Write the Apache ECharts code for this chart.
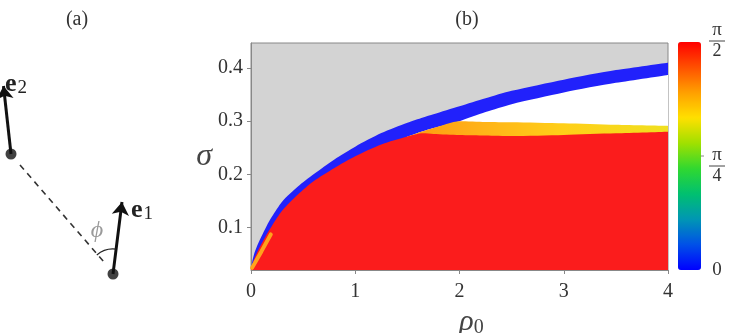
<!DOCTYPE html>
<html>
<head>
<meta charset="utf-8">
<script src="https://cdn.jsdelivr.net/npm/echarts@6/dist/echarts.min.js"></script>
<style>
html, body { margin: 0; padding: 0; background: #fff; }
#chart { width: 731px; height: 333px; }
</style>
</head>
<body>
<div id="chart"></div>
<script>
// panel (b): region boundaries sigma(rho0)
const rho = [0, 0.01, 0.03, 0.06, 0.1, 0.15, 0.2, 0.3, 0.45, 0.6, 0.8, 1.0, 1.25, 1.5, 1.65, 1.75, 2.0, 2.25, 2.5, 3.0, 3.5, 4.0];
const blueUpper = [0.021, 0.034, 0.05, 0.066, 0.083, 0.103, 0.12, 0.149, 0.177, 0.2, 0.228, 0.252, 0.2775, 0.297, 0.307, 0.313, 0.328, 0.343, 0.357, 0.378, 0.396, 0.41];
const blueLower = [0.021, 0.028, 0.04, 0.054, 0.069, 0.087, 0.103, 0.132, 0.162, 0.187, 0.212, 0.234, 0.256, 0.271, 0.281, 0.287, 0.3, 0.317, 0.332, 0.354, 0.372, 0.387];
const redTop = [0.021, 0.028, 0.04, 0.054, 0.069, 0.087, 0.103, 0.132, 0.162, 0.187, 0.212, 0.234, 0.256, 0.271, 0.277, 0.276, 0.274, 0.273, 0.272, 0.274, 0.277, 0.28];
// orange/yellow band above the red region
const bandRho = [1.5, 1.65, 1.75, 2.0, 2.25, 2.5, 3.0, 3.5, 4.0];
const bandTop = [0.271, 0.281, 0.287, 0.3, 0.2985, 0.298, 0.296, 0.293, 0.291];
// thin orange sliver near the origin
const sliverRho = [0.01, 0.1, 0.19];
const sliverSigma = [0.024, 0.055, 0.087];
const yTicks = [0.1, 0.2, 0.3, 0.4];

// panel (a): schematic, in the diagram's own frame
const dots = [[11, 154], [113, 274]];
const arrows = [[[11, 154], [3.5, 86]], [[113, 274], [122, 202]]];
const dashed = [[20, 165], [104, 262]];

const jet = ['#0000ff', '#0050e8', '#0096b4', '#00c070', '#30d830', '#a0e000', '#ffe000', '#ffa000', '#ff5000', '#ff0000'];

const pair = (xs, ys) => xs.map((x, i) => [x, ys[i]]);
const whiteRho = rho.filter(r => r >= 1.5);
const whiteTop = blueLower.slice(rho.length - whiteRho.length);

const serif = '"Liberation Serif", "DejaVu Serif", serif';

function area(name, data, color, z) {
    return {
        name, type: 'line', data, z,
        symbol: 'none', smooth: 0.25, clip: true,
        lineStyle: { width: 0 },
        areaStyle: { color, opacity: 1, origin: 'start' },
        silent: true
    };
}

function frac(num, den, cx, cy) {
    return {
        type: 'group',
        children: [
            { type: 'text', x: cx, y: cy - 1, style: { text: num, font: '19px ' + serif, fill: '#333', align: 'center', verticalAlign: 'bottom' } },
            { type: 'line', shape: { x1: cx - 8, y1: cy, x2: cx + 8, y2: cy }, style: { stroke: '#444', lineWidth: 1 } },
            { type: 'text', x: cx, y: cy + 1, style: { text: den, font: '18px ' + serif, fill: '#333', align: 'center', verticalAlign: 'top' } }
        ]
    };
}

const chart = echarts.init(document.getElementById('chart'));

const option = {
    animation: false,
    grid: [
        { left: 251, top: 43, width: 417, height: 227, show: true, backgroundColor: '#d3d3d3', borderColor: '#888', borderWidth: 1, outerBoundsMode: 'none' },
        { left: 0, top: 0, width: 200, height: 333, show: false, outerBoundsMode: 'none' }
    ],
    xAxis: [
        {
            type: 'value', gridIndex: 0, min: 0, max: 4, interval: 1,
            name: '{r|ρ}{s|0}', nameLocation: 'middle', nameGap: 30,
            nameTextStyle: {
                padding: [0, 0, 0, 24],
                rich: {
                    r: { fontFamily: serif, fontStyle: 'italic', fontSize: 30, color: '#444' },
                    s: { fontFamily: serif, fontSize: 20, color: '#444', padding: [12, 0, 0, 0] }
                }
            },
            axisLine: { lineStyle: { color: '#888' } },
            axisTick: { length: 4, lineStyle: { color: '#888' } },
            axisLabel: { fontFamily: serif, fontSize: 20, color: '#333', margin: 12 },
            splitLine: { show: false }
        },
        { type: 'value', gridIndex: 1, min: 0, max: 200, show: false }
    ],
    yAxis: [
        {
            type: 'value', gridIndex: 0, min: 0.02, max: 0.447,
            name: 'σ', nameLocation: 'middle', nameGap: 34, nameRotate: 0,
            nameTextStyle: { fontFamily: serif, fontStyle: 'italic', fontSize: 32, color: '#444', padding: [0, 0, 8, 0] },
            axisLine: { lineStyle: { color: '#888' } },
            axisTick: { length: 4, lineStyle: { color: '#888' }, customValues: yTicks },
            axisLabel: { fontFamily: serif, fontSize: 20, color: '#333', margin: 8, customValues: yTicks },
            splitLine: { show: false }
        },
        { type: 'value', gridIndex: 1, min: 0, max: 333, inverse: true, show: false }
    ],
    visualMap: {
        type: 'continuous', min: 0, max: Math.PI / 2, seriesIndex: [],
        orient: 'vertical', left: 678, top: 42, padding: 0,
        itemWidth: 23, itemHeight: 228, calculable: false, showLabel: false,
        text: ['', ''], hoverLink: false,
        inRange: { color: jet }
    },
    series: [
        area('blue', pair(rho, blueUpper), '#2121fb', 1),
        area('white', pair(whiteRho, whiteTop), '#ffffff', 2),
        area('band', pair(bandRho, bandTop), new echarts.graphic.LinearGradient(0, 0, 1, 0, [
            { offset: 0, color: '#ff9810' },
            { offset: 0.25, color: '#ffb018' },
            { offset: 0.6, color: '#ffcf18' },
            { offset: 1, color: '#f0e020' }
        ]), 3),
        area('red', pair(rho, redTop), '#fb1c1c', 4),
        {
            name: 'sliver', type: 'line', data: pair(sliverRho, sliverSigma), z: 5,
            symbol: 'none', clip: true, silent: true,
            lineStyle: { width: 4, color: '#ffa21c', cap: 'round' }
        },
        // panel (a)
        {
            type: 'lines', coordinateSystem: 'cartesian2d', xAxisIndex: 1, yAxisIndex: 1,
            symbol: 'none', silent: true,
            lineStyle: { color: '#333', width: 1.6, type: [6, 5], opacity: 1 },
            data: [{ coords: dashed }]
        },
        {
            type: 'lines', coordinateSystem: 'cartesian2d', xAxisIndex: 1, yAxisIndex: 1,
            symbol: ['none', 'arrow'], symbolSize: 13, silent: true,
            lineStyle: { color: '#111', width: 3, opacity: 1 },
            data: arrows.map(c => ({ coords: c }))
        },
        {
            type: 'scatter', xAxisIndex: 1, yAxisIndex: 1, silent: true,
            symbolSize: 11, itemStyle: { color: '#111' },
            data: dots
        },
        {
            type: 'custom', xAxisIndex: 1, yAxisIndex: 1, silent: true,
            data: [dots[1]],
            renderItem: (params, api) => {
                const c = api.coord([api.value(0), api.value(1)]);
                return {
                    type: 'arc',
                    shape: { cx: c[0], cy: c[1], r: 25, startAngle: 229.6 * Math.PI / 180, endAngle: 277 * Math.PI / 180 },
                    style: { stroke: '#222', fill: null, lineWidth: 1.2 }
                };
            }
        }
    ],
    graphic: [
        { type: 'text', x: 77, y: 20, style: { text: '(a)', font: '20px ' + serif, fill: '#333', align: 'center', verticalAlign: 'middle' } },
        { type: 'text', x: 467, y: 20, style: { text: '(b)', font: '20px ' + serif, fill: '#333', align: 'center', verticalAlign: 'middle' } },
        {
            type: 'text', x: 5, y: 84,
            style: {
                text: '{e|e}{s|2}', verticalAlign: 'middle',
                rich: {
                    e: { font: 'bold 26px ' + serif, fill: '#222' },
                    s: { font: '19px ' + serif, fill: '#222', padding: [8, 0, 0, 1] }
                }
            }
        },
        {
            type: 'text', x: 131, y: 210,
            style: {
                text: '{e|e}{s|1}', verticalAlign: 'middle',
                rich: {
                    e: { font: 'bold 26px ' + serif, fill: '#222' },
                    s: { font: '19px ' + serif, fill: '#222', padding: [8, 0, 0, 1] }
                }
            }
        },
        { type: 'text', x: 97, y: 231, style: { text: 'ϕ', font: 'italic 24px ' + serif, fill: '#9a9a9a', align: 'center', verticalAlign: 'middle' } },
        // colorbar labels
        frac('π', '2', 717, 41),
        frac('π', '4', 717, 166),
        { type: 'line', shape: { x1: 701, y1: 156, x2: 704, y2: 156 }, style: { stroke: '#888', lineWidth: 1 } },
        { type: 'text', x: 717, y: 270, style: { text: '0', font: '19px ' + serif, fill: '#333', align: 'center', verticalAlign: 'middle' } }
    ]
};

chart.setOption(option);
</script>
</body>
</html>
